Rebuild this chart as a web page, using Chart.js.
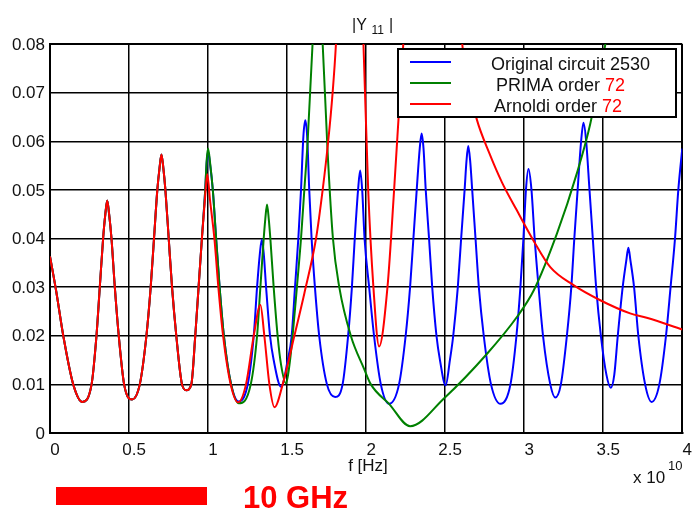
<!DOCTYPE html>
<html>
<head>
<meta charset="utf-8">
<title>|Y11| vs frequency</title>
<script src="https://cdn.jsdelivr.net/npm/chart.js@4.4.0/dist/chart.umd.min.js"></script>
<style>
  html, body { margin: 0; padding: 0; background: #fff; }
  #wrap { position: relative; width: 694px; height: 513px; }
</style>
</head>
<body>
<div id="wrap"><canvas id="y11Chart" width="694" height="513"></canvas></div>
<script>
// frequency is in units of 1e10 Hz, magnitude is |Y11|
const origFreq = [0, 0.04, 0.084, 0.147, 0.204, 0.263, 0.294, 0.315, 0.336, 0.35, 0.362, 0.374, 0.389, 0.41, 0.435, 0.469,
  0.519, 0.568, 0.61, 0.637, 0.658, 0.679, 0.693, 0.705, 0.717, 0.73, 0.751, 0.772, 0.799, 0.835, 0.862, 0.894, 0.919, 0.94,
  0.961, 0.982, 0.991, 1.0, 1.013, 1.03, 1.051, 1.073, 1.1, 1.146, 1.194, 1.251, 1.289, 1.31, 1.328, 1.34, 1.352, 1.367, 1.392, 1.415,
  1.462, 1.504, 1.529, 1.55, 1.571, 1.588, 1.603, 1.615, 1.627, 1.64, 1.655, 1.676, 1.703, 1.752, 1.804, 1.851, 1.886, 1.91,
  1.928, 1.949, 1.962, 1.975, 1.99, 2.019, 2.05, 2.093, 2.145, 2.208, 2.25, 2.278, 2.299, 2.32, 2.339, 2.351, 2.363, 2.377,
  2.398, 2.418, 2.445, 2.467, 2.503, 2.53, 2.551, 2.58, 2.601, 2.623, 2.635, 2.646, 2.658, 2.671, 2.692, 2.713, 2.744, 2.79,
  2.85, 2.913, 2.951, 2.976, 2.995, 3.011, 3.027, 3.046, 3.066, 3.091, 3.119, 3.165, 3.197, 3.232, 3.27, 3.298,
  3.317, 3.338, 3.36, 3.375, 3.392, 3.413, 3.434, 3.455, 3.485, 3.52, 3.548, 3.57, 3.592, 3.623, 3.646, 3.659, 3.672, 3.695,
  3.722, 3.765, 3.806, 3.855, 3.897, 3.926, 3.954, 3.975, 4.0];
const origMag = [0.0363, 0.029, 0.02, 0.01, 0.0064, 0.01, 0.02, 0.03, 0.04, 0.045, 0.0478, 0.045, 0.04, 0.03, 0.02, 0.01,
  0.0069, 0.01, 0.02, 0.03, 0.04, 0.05, 0.0545, 0.0573, 0.0545, 0.05, 0.04, 0.03, 0.02, 0.01, 0.0088, 0.01, 0.02, 0.03,
  0.04, 0.05, 0.0555, 0.058, 0.0552, 0.05, 0.04, 0.03, 0.02, 0.01, 0.0065, 0.01, 0.02, 0.03, 0.037, 0.0398, 0.037, 0.03, 0.02, 0.015,
  0.0095, 0.015, 0.02, 0.03, 0.04, 0.05, 0.061, 0.0643, 0.061, 0.05, 0.04, 0.03, 0.02, 0.01, 0.0074, 0.01, 0.02, 0.03,
  0.04, 0.05, 0.054, 0.05, 0.04, 0.03, 0.02, 0.01, 0.006, 0.01, 0.02, 0.03, 0.04, 0.05, 0.0585, 0.0616, 0.0585, 0.05,
  0.04, 0.03, 0.02, 0.015, 0.0098, 0.015, 0.02, 0.03, 0.04, 0.05, 0.056, 0.059, 0.056, 0.05, 0.04, 0.03, 0.02, 0.01,
  0.006, 0.01, 0.02, 0.03, 0.04, 0.05, 0.0543, 0.05, 0.04, 0.03, 0.02, 0.01, 0.0073, 0.01, 0.02, 0.03,
  0.04, 0.05, 0.06, 0.0638, 0.06, 0.05, 0.04, 0.03, 0.02, 0.012, 0.0093, 0.012, 0.02, 0.03, 0.0355, 0.0381, 0.0355, 0.03,
  0.02, 0.01, 0.0064, 0.01, 0.02, 0.03, 0.04, 0.05, 0.0585];

const primaFreq = [0, 0.04, 0.084, 0.147, 0.204, 0.263, 0.294, 0.315, 0.336, 0.35, 0.362, 0.374, 0.389, 0.41, 0.435, 0.469,
  0.519, 0.568, 0.61, 0.637, 0.658, 0.679, 0.693, 0.705, 0.717, 0.73, 0.751, 0.772, 0.799, 0.835, 0.862, 0.894, 0.919, 0.94,
  0.961, 0.982, 0.991, 1.0, 1.013, 1.03, 1.051, 1.073, 1.1, 1.146, 1.194, 1.27, 1.31, 1.331, 1.352, 1.362, 1.373, 1.384, 1.394, 1.415,
  1.44, 1.462, 1.493, 1.515, 1.535, 1.562, 1.588, 1.609, 1.63, 1.661, 1.693, 1.725, 1.756, 1.79, 1.83, 1.903,
  1.987, 2.03, 2.145, 2.278, 2.492, 2.765, 2.955, 3.06, 3.207, 3.333, 3.418, 3.512, 3.56];
const primaMag = [0.0363, 0.029, 0.02, 0.01, 0.0064, 0.01, 0.02, 0.03, 0.04, 0.045, 0.0478, 0.045, 0.04, 0.03, 0.02, 0.01,
  0.0069, 0.01, 0.02, 0.03, 0.04, 0.05, 0.0545, 0.0573, 0.0545, 0.05, 0.04, 0.03, 0.02, 0.01, 0.0088, 0.01, 0.02, 0.03,
  0.04, 0.05, 0.056, 0.0585, 0.0555, 0.05, 0.04, 0.03, 0.02, 0.01, 0.0061, 0.01, 0.02, 0.03, 0.04, 0.044, 0.047, 0.044, 0.04, 0.03,
  0.02, 0.014, 0.0102, 0.014, 0.02, 0.03, 0.04, 0.05, 0.06, 0.08, 0.095, 0.08, 0.058, 0.04, 0.03, 0.02,
  0.0132, 0.01, 0.006, 0.0014, 0.0071, 0.0163, 0.0239, 0.0293, 0.041, 0.0534, 0.0636, 0.0797, 0.09];

const arnoldiFreq = [0, 0.04, 0.084, 0.147, 0.204, 0.263, 0.294, 0.315, 0.336, 0.35, 0.362, 0.374, 0.389, 0.41, 0.435, 0.469,
  0.519, 0.568, 0.61, 0.637, 0.658, 0.679, 0.693, 0.705, 0.717, 0.73, 0.751, 0.772, 0.799, 0.835, 0.862, 0.894, 0.919, 0.94,
  0.961, 0.98, 0.995, 1.012, 1.04, 1.065, 1.095, 1.143, 1.19, 1.24, 1.289, 1.331, 1.356, 1.388, 1.42, 1.472,
  1.546, 1.609, 1.683, 1.725, 1.76, 1.788, 1.809, 1.85, 1.9, 1.95, 1.983, 2.013, 2.046, 2.082, 2.135, 2.177,
  2.215, 2.235, 2.3, 2.42, 2.55, 2.608, 2.65, 2.7, 2.78, 2.86, 2.95, 3.06, 3.165, 3.312, 3.481, 3.67,
  3.775, 4.0];
const arnoldiMag = [0.0363, 0.029, 0.02, 0.01, 0.0064, 0.01, 0.02, 0.03, 0.04, 0.045, 0.0478, 0.045, 0.04, 0.03, 0.02, 0.01,
  0.0069, 0.01, 0.02, 0.03, 0.04, 0.05, 0.0545, 0.0573, 0.0545, 0.05, 0.04, 0.03, 0.02, 0.01, 0.0088, 0.01, 0.02, 0.03,
  0.04, 0.048, 0.0532, 0.048, 0.04, 0.03, 0.02, 0.01, 0.0063, 0.01, 0.02, 0.0263, 0.02, 0.01, 0.0053, 0.01,
  0.02, 0.0287, 0.04, 0.05, 0.06, 0.07, 0.08, 0.11, 0.125, 0.105, 0.08, 0.05, 0.03, 0.0178, 0.03, 0.05,
  0.07, 0.08, 0.12, 0.16, 0.11, 0.08, 0.0715, 0.0645, 0.0575, 0.0515, 0.046, 0.0395, 0.0341, 0.0304, 0.0273, 0.0246,
  0.0237, 0.0213];

const xTickValues = [0, 0.5, 1, 1.5, 2, 2.5, 3, 3.5, 4];
const xTickLabels = ['0', '0.5', '1', '1.5', '2', '2.5', '3', '3.5', '4'];
const yTickValues = [0, 0.01, 0.02, 0.03, 0.04, 0.05, 0.06, 0.07, 0.08];
const yTickLabels = ['0', '0.01', '0.02', '0.03', '0.04', '0.05', '0.06', '0.07', '0.08'];

const legendNames = ['Original circuit ', 'PRIMA order ', 'Arnoldi order '];
const legendNumbers = ['2530', '72', '72'];

const FONT = "'Liberation Sans', Arial, Helvetica, sans-serif";
Chart.defaults.font.family = FONT;

function toPoints(xs, ys) {
  return xs.map((x, i) => ({ x: x, y: ys[i] }));
}

// extra texts: title, legend box, axis label, exponent, 10 GHz marker
const decorations = {
  id: 'decorations',
  afterDraw(chart) {
    const ctx = chart.ctx;
    ctx.save();
    ctx.textBaseline = 'alphabetic';
    ctx.textAlign = 'left';
    ctx.fillStyle = '#111';

    // title |Y 11 |
    ctx.font = '16px ' + FONT;
    ctx.fillText('|Y', 352, 30);
    ctx.font = '12px ' + FONT;
    ctx.fillText('11', 371.5, 33.5);
    ctx.font = '16px ' + FONT;
    ctx.fillText('|', 389, 30);

    // x axis label and exponent
    ctx.font = '17px ' + FONT;
    ctx.textAlign = 'center';
    ctx.fillText('f [Hz]', 368, 471);
    ctx.textAlign = 'left';
    ctx.fillText('x 10', 633, 483);
    ctx.font = '13px ' + FONT;
    ctx.fillText('10', 668, 469.5);

    // legend
    ctx.fillStyle = '#fff';
    ctx.fillRect(398, 49, 278, 68);
    ctx.strokeStyle = '#000';
    ctx.lineWidth = 2;
    ctx.strokeRect(398, 49, 278, 68);
    const rowY = [62, 83, 104];
    const textX = [491, 496, 494];
    const baseY = [69.5, 90.5, 111.5];
    ctx.font = '18px ' + FONT;
    chart.data.datasets.forEach((ds, i) => {
      ctx.strokeStyle = ds.borderColor;
      ctx.lineWidth = 2;
      ctx.beginPath();
      ctx.moveTo(410, rowY[i]);
      ctx.lineTo(451, rowY[i]);
      ctx.stroke();
      ctx.fillStyle = '#111';
      ctx.fillText(legendNames[i], textX[i], baseY[i]);
      const w = ctx.measureText(legendNames[i]).width;
      ctx.fillStyle = i === 0 ? '#111' : '#ff0000';
      ctx.fillText(legendNumbers[i], textX[i] + w, baseY[i]);
    });

    // 10 GHz scale bar
    ctx.fillStyle = '#ff0000';
    ctx.fillRect(56, 487, 151, 18);
    ctx.font = 'bold 31px ' + FONT;
    ctx.fillText('10 GHz', 243, 508);
    ctx.restore();
  }
};

new Chart(document.getElementById('y11Chart'), {
  type: 'line',
  data: {
    datasets: [
      { label: 'Original circuit 2530', data: toPoints(origFreq, origMag), borderColor: '#0000ff', order: 3 },
      { label: 'PRIMA order 72', data: toPoints(primaFreq, primaMag), borderColor: '#008000', order: 2 },
      { label: 'Arnoldi order 72', data: toPoints(arnoldiFreq, arnoldiMag), borderColor: '#ff0000', order: 1 }
    ]
  },
  options: {
    responsive: false,
    animation: false,
    layout: { padding: { top: 44, right: 10, bottom: 0, left: 0 }, autoPadding: false },
    elements: {
      line: { borderWidth: 2, cubicInterpolationMode: 'monotone', fill: false },
      point: { radius: 0 }
    },
    plugins: {
      legend: { display: false },
      tooltip: { enabled: false },
      title: { display: false }
    },
    scales: {
      x: {
        type: 'linear',
        min: 0,
        max: 4,
        afterBuildTicks: s => { s.ticks = xTickValues.map(v => ({ value: v })); },
        afterFit: s => { s.height = 80; },
        ticks: {
          callback: (v, i) => xTickLabels[i],
          color: '#111',
          font: { size: 17 },
          padding: 7,
          labelOffset: 5,
          maxRotation: 0,
          autoSkip: false
        },
        grid: {
          color: '#000',
          lineWidth: c => (c.tick && c.tick.value === 4 ? 2 : 1.5),
          drawTicks: false
        },
        border: { color: '#000', width: 2 }
      },
      y: {
        min: 0,
        max: 0.08,
        afterBuildTicks: s => { s.ticks = yTickValues.map(v => ({ value: v })); },
        afterFit: s => { s.width = 50; },
        ticks: {
          callback: (v, i) => yTickLabels[i],
          color: '#111',
          font: { size: 17 },
          padding: 5,
          labelOffset: 1,
          autoSkip: false
        },
        grid: {
          color: '#000',
          lineWidth: c => (c.tick && c.tick.value === 0.08 ? 2 : 1.5),
          drawTicks: false
        },
        border: { color: '#000', width: 2 }
      }
    }
  },
  plugins: [decorations]
});
</script>
</body>
</html>
